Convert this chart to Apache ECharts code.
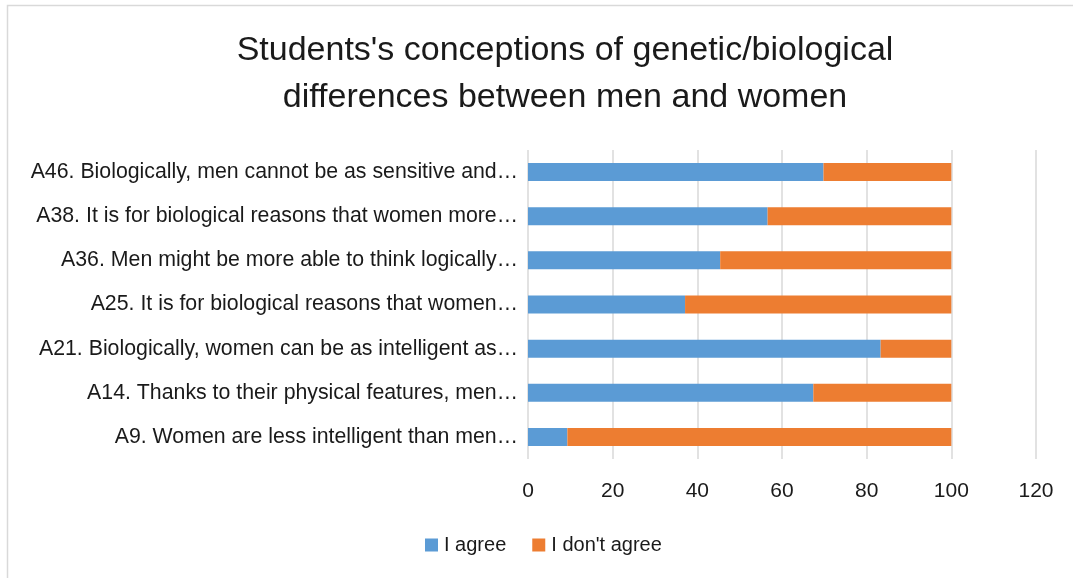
<!DOCTYPE html>
<html><head><meta charset="utf-8">
<script src="https://cdn.jsdelivr.net/npm/echarts@6/dist/echarts.min.js"></script>
<style>html,body{margin:0;padding:0;background:#fff}#c{width:1073px;height:578px}</style>
</head><body><div id="c"></div>
<script>
const categories = [
  "A9. Women are less intelligent than men…",
  "A14. Thanks to their physical features, men…",
  "A21. Biologically, women can be as intelligent as…",
  "A25. It is for biological reasons that women…",
  "A36. Men might be more able to think logically…",
  "A38. It is for biological reasons that women more…",
  "A46. Biologically, men cannot be as sensitive and…"
];
const agree = [9.3, 67.4, 83.3, 37.1, 45.4, 56.6, 69.8];
const disagree = [90.7, 32.6, 16.7, 62.9, 54.6, 43.4, 30.2];
const xTicks = [0, 20, 40, 60, 80, 100, 120];
const titleText = "Students's conceptions of genetic/biological\ndifferences between men and women";

const font = "Liberation Sans";
const chart = echarts.init(document.getElementById('c'), null, {renderer:'canvas'});
chart.setOption({
  animation:false,
  textStyle:{fontFamily:font},
  graphic:[
    {type:'rect', shape:{x:7.5,y:5.5,width:1100,height:600}, style:{fill:'none', stroke:'#d9d9d9', lineWidth:1.5}, silent:true},
    {type:'text', x:565, y:27, silent:true,
     style:{text:titleText, fontFamily:font, fontSize:34, fill:'#1a1a1a', lineHeight:47,
            align:'center', verticalAlign:'top'}}
  ],
  legend:{
    top:530, left:420, itemWidth:13, itemHeight:13, itemGap:26,
    icon:'rect',
    textStyle:{fontFamily:font, fontSize:20, color:'#1a1a1a', padding:[0,0,0,1]},
    data:['I agree',"I don't agree"]
  },
  grid:{left:528, right:37, top:150, bottom:119, containLabel:false},
  xAxis:{
    type:'value', min:0, max:120, interval:20,
    axisLine:{show:false}, axisTick:{show:false},
    axisLabel:{fontFamily:font, fontSize:21, color:'#1a1a1a', margin:22,
      formatter:v=>xTicks.includes(v)?String(v):''},
    splitLine:{lineStyle:{color:'#d9d9d9', width:1.5}}
  },
  yAxis:{
    type:'category', data:categories,
    axisLine:{show:false}, axisTick:{show:false},
    axisLabel:{fontFamily:font, fontSize:21.3, color:'#1a1a1a', margin:10}
  },
  series:[
    {name:'I agree', type:'bar', stack:'a', data:agree, barWidth:18, itemStyle:{color:'#5B9BD5'}},
    {name:"I don't agree", type:'bar', stack:'a', data:disagree, barWidth:18, itemStyle:{color:'#ED7D31'}}
  ]
});
</script></body></html>
